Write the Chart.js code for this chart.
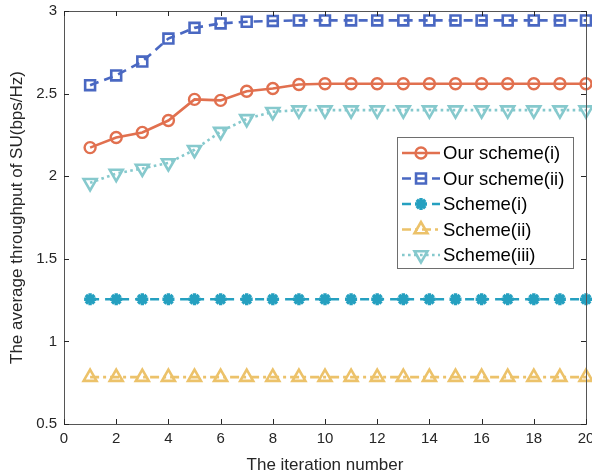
<!DOCTYPE html>
<html>
<head>
<meta charset="utf-8">
<script src="https://cdn.jsdelivr.net/npm/chart.js@4/dist/chart.umd.min.js"></script>
<style>
  html, body { margin: 0; padding: 0; background: #fff; }
  #wrap { width: 592px; height: 476px; }
</style>
</head>
<body>
<div id="wrap"><canvas id="cnv" width="592" height="476"></canvas></div>
<script>
// iteration index 1..20
let iterations = [1,2,3,4,5,6,7,8,9,10,11,12,13,14,15,16,17,18,19,20]

let ourSchemeI  = [2.173,2.234,2.265,2.337,2.465,2.459,2.514,2.531,2.555,2.56,2.56,2.56,2.56,2.56,2.56,2.56,2.56,2.56,2.56,2.56]
let ourSchemeII = [2.551,2.61,2.694,2.833,2.898,2.925,2.935,2.94,2.943,2.943,2.943,2.943,2.943,2.943,2.943,2.943,2.943,2.943,2.943,2.943]
let schemeI     = [1.255,1.255,1.255,1.255,1.255,1.255,1.255,1.255,1.255,1.255,1.255,1.255,1.255,1.255,1.255,1.255,1.255,1.255,1.255,1.255]
let schemeII    = [0.784,0.784,0.784,0.784,0.784,0.784,0.784,0.784,0.784,0.784,0.784,0.784,0.784,0.784,0.784,0.784,0.784,0.784,0.784,0.784]
let schemeIII   = [1.96,2.016,2.047,2.08,2.16,2.27,2.347,2.39,2.4,2.4,2.4,2.4,2.4,2.4,2.4,2.4,2.4,2.4,2.4,2.4]

let seriesNames = ['Our scheme(i)','Our scheme(ii)','Scheme(i)','Scheme(ii)','Scheme(iii)']

let xTicks = [0,2,4,6,8,10,12,14,16,18,20]
let yTicks = [0.5,1,1.5,2,2.5,3]

const FONT = 'Arial, "Liberation Sans", Helvetica, sans-serif'
const AXIS = '#262626'

function pts(vals){
    return vals.map((v,i)=>({x: iterations[i], y: v}))
}

function makeSet(label, vals, color, dash, style, radius, rot, bw){
    return {
        label: label,
        data: pts(vals),
        borderColor: color,
        backgroundColor: color,
        borderWidth: 2.6,
        borderDash: dash,
        pointStyle: style,
        pointRadius: radius,
        pointHoverRadius: radius,
        pointRotation: rot,
        pointBorderColor: color,
        pointBackgroundColor: 'rgba(255,255,255,0)',
        pointBorderWidth: bw,
        tension: 0,
        clip: 12
    }
}

let datasets = [
    makeSet(seriesNames[0], ourSchemeI,  '#E1704F', [],          'circle',   5.5, 0,   2.4),
    makeSet(seriesNames[1], ourSchemeII, '#4A68C2', [9,6],       'rect',     7,   0,   2.6),
    makeSet(seriesNames[2], schemeI,     '#25A0C0', [9,6],       'star',     6,   0,   3.4),
    makeSet(seriesNames[3], schemeII,    '#ECC26A', [9,4,3,4],   'triangle', 7.5, 0,   2.6),
    makeSet(seriesNames[4], schemeIII,   '#86C9CD', [2.6,3.4],   'triangle', 7.5, 180, 2.6)
]

// MATLAB style box with inward ticks
const boxPlugin = {
    id: 'box',
    afterDatasetsDraw(chart){
        let ctx = chart.ctx
        let a = chart.chartArea
        let xs = chart.scales.x, ys = chart.scales.y
        ctx.save()
        ctx.strokeStyle = '#555'
        ctx.lineWidth = 1
        ctx.strokeRect(a.left + 0.5, a.top + 0.5, a.right - a.left, a.bottom - a.top)
        ctx.strokeStyle = AXIS
        ctx.beginPath()
        xTicks.forEach(t => {
            let px = Math.round(xs.getPixelForValue(t)) + 0.5
            ctx.moveTo(px, a.bottom); ctx.lineTo(px, a.bottom - 5)
            ctx.moveTo(px, a.top); ctx.lineTo(px, a.top + 5)
        })
        yTicks.forEach(t => {
            let py = Math.round(ys.getPixelForValue(t)) + 0.5
            ctx.moveTo(a.left, py); ctx.lineTo(a.left + 5, py)
            ctx.moveTo(a.right, py); ctx.lineTo(a.right - 5, py)
        })
        ctx.stroke()
        ctx.restore()
    }
}

function drawMarker(ctx, ds, x, y){
    let r = ds.pointRadius
    ctx.save()
    ctx.setLineDash([])
    ctx.lineWidth = ds.pointBorderWidth
    ctx.strokeStyle = ds.borderColor
    ctx.beginPath()
    if(ds.pointStyle == 'circle'){
        ctx.arc(x, y, r, 0, Math.PI*2)
    } else if(ds.pointStyle == 'rect'){
        let s = Math.SQRT1_2 * r
        ctx.rect(x - s, y - s, 2*s, 2*s)
    } else if(ds.pointStyle == 'star'){
        for(let k = 0; k < 4; k++){
            let ang = k * Math.PI / 4
            ctx.moveTo(x - Math.cos(ang)*r, y - Math.sin(ang)*r)
            ctx.lineTo(x + Math.cos(ang)*r, y + Math.sin(ang)*r)
        }
    } else if(ds.pointStyle == 'triangle'){
        let sgn = ds.pointRotation == 180 ? -1 : 1
        ctx.moveTo(x, y - sgn*r)
        ctx.lineTo(x - r*0.866, y + sgn*r*0.5)
        ctx.lineTo(x + r*0.866, y + sgn*r*0.5)
        ctx.closePath()
    }
    ctx.stroke()
    ctx.restore()
}

// legend box inside the axes, upper right
const legendPlugin = {
    id: 'inLegend',
    afterDraw(chart){
        let ctx = chart.ctx
        let left = 397, top = 137, w = 176, h = 131
        ctx.save()
        ctx.fillStyle = '#fff'
        ctx.fillRect(left, top, w, h)
        ctx.strokeStyle = '#6e6e6e'
        ctx.lineWidth = 1
        ctx.strokeRect(left + 0.5, top + 0.5, w, h)
        chart.data.datasets.forEach((ds, i) => {
            let cy = top + 16 + i * 25.5
            ctx.strokeStyle = ds.borderColor
            ctx.lineWidth = ds.borderWidth
            ctx.setLineDash(ds.borderDash)
            ctx.beginPath()
            ctx.moveTo(left + 5, cy)
            ctx.lineTo(left + 43, cy)
            ctx.stroke()
            drawMarker(ctx, ds, left + 24, cy)
            ctx.setLineDash([])
            ctx.fillStyle = '#000'
            ctx.font = '18.5px ' + FONT
            ctx.textBaseline = 'middle'
            ctx.fillText(ds.label, left + 46, cy + 1)
        })
        ctx.restore()
    }
}

new Chart(document.getElementById('cnv').getContext('2d'), {
    type: 'line',
    data: { datasets: datasets },
    plugins: [boxPlugin, legendPlugin],
    options: {
        responsive: false,
        animation: false,
        layout: { autoPadding: false, padding: { left: 0, right: 0, top: 5, bottom: 0 } },
        plugins: {
            legend: { display: false },
            tooltip: { enabled: false }
        },
        scales: {
            x: {
                type: 'linear',
                min: 0, max: 20,
                afterFit: (s) => { s.height = 52; s.paddingRight = 6 },
                afterBuildTicks: (s) => { s.ticks = xTicks.map(v => ({value: v})) },
                grid: { display: false, drawTicks: false },
                border: { display: false },
                ticks: { color: AXIS, font: { family: FONT, size: 15 }, padding: 6, maxRotation: 0 },
                title: { display: true, text: 'The iteration number', color: AXIS, font: { family: FONT, size: 17 }, padding: { top: 0, bottom: 0 } }
            },
            y: {
                min: 0.5, max: 3,
                afterFit: (s) => { s.width = 64; s.paddingTop = 11; s.paddingBottom = 0 },
                afterBuildTicks: (s) => { s.ticks = yTicks.map(v => ({value: v})) },
                grid: { display: false, drawTicks: false },
                border: { display: false },
                ticks: { color: AXIS, font: { family: FONT, size: 15 }, padding: 7, callback: (v) => String(v) },
                title: { display: true, text: 'The average throughput of SU(bps/Hz)', color: AXIS, font: { family: FONT, size: 17 }, padding: { top: 7, bottom: 0 } }
            }
        }
    }
})
</script>
</body>
</html>
